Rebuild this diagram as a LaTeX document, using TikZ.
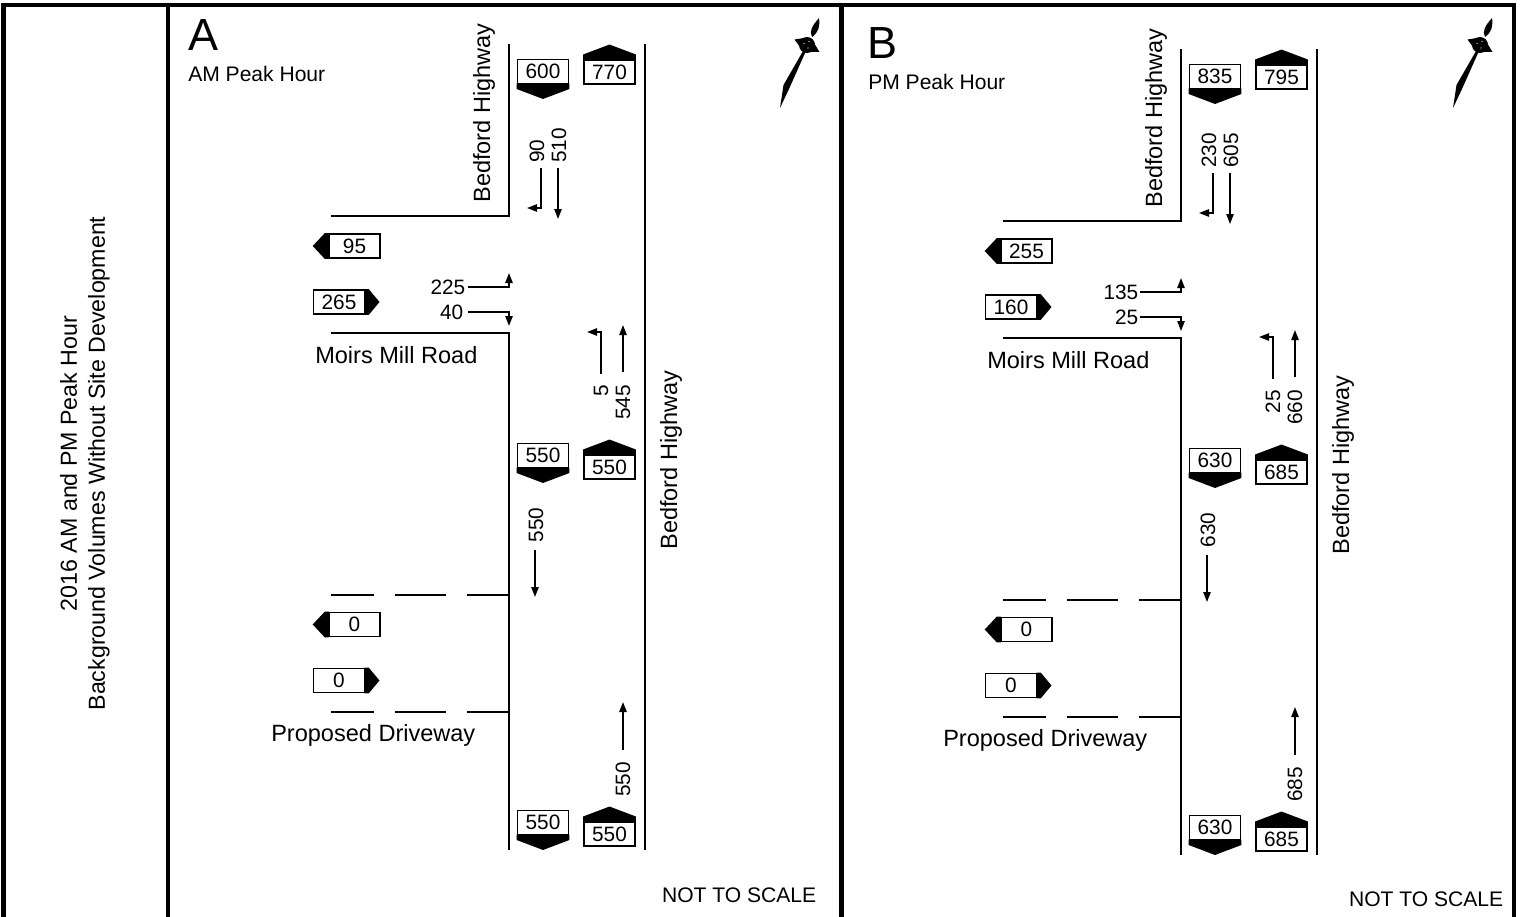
\documentclass[tikz,border=0pt]{standalone}
\usepackage{fontspec}
\setmainfont{Liberation Sans}
\usetikzlibrary{arrows.meta}
\tikzset{
  road/.style={line width=1.6pt,line cap=rect},
  frameline/.style={line width=3.3pt},
  flow/.style={line width=1.15pt,-{Triangle[length=7.5pt,width=5.5pt]}},
  volbox/.style={draw,fill=white,line width=1.2pt,inner sep=0pt,minimum width=38.5pt,minimum height=18pt,font=\fontsize{15.6}{18}\selectfont},
  lab/.style={inner sep=0pt,font=\fontsize{17.65}{21}\selectfont},
  side/.style={inner sep=0pt,font=\fontsize{17.4}{21}\selectfont},
  num/.style={inner sep=0pt,font=\fontsize{15.6}{18}\selectfont},
  vert/.style={rotate=90},
}
\newcommand\boxdn[4]{\node[volbox] (#1) at (#2,#3) {#4};
  \fill ([yshift=.6pt]#1.south west) -- ([yshift=-3.5pt]#1.south west) -- ([yshift=-11pt]#1.south) -- ([yshift=-3.5pt]#1.south east) -- ([yshift=.6pt]#1.south east) -- cycle;}
\newcommand\boxup[4]{\node[volbox] (#1) at (#2,#3) {#4};
  \fill ([yshift=-.6pt]#1.north west) -- ([yshift=3.5pt]#1.north west) -- ([yshift=11pt]#1.north) -- ([yshift=3.5pt]#1.north east) -- ([yshift=-.6pt]#1.north east) -- cycle;}
\newcommand\boxlf[4]{\node[volbox] (#1) at (#2,#3) {#4};
  \fill ([xshift=.6pt]#1.north west) -- ([xshift=-2.5pt]#1.north west) -- ([xshift=-11.5pt]#1.west) -- ([xshift=-2.5pt]#1.south west) -- ([xshift=.6pt]#1.south west) -- cycle;}
\newcommand\boxrt[4]{\node[volbox] (#1) at (#2,#3) {#4};
  \fill ([xshift=-.6pt]#1.north east) -- ([xshift=2.5pt]#1.north east) -- ([xshift=10.5pt]#1.east) -- ([xshift=2.5pt]#1.south east) -- ([xshift=-.6pt]#1.south east) -- cycle;}
\newcommand\northsign[2]{\begin{scope}[shift={(#1,#2)}]
  \fill (0,0) circle[radius=8];
  \fill (-12.5,-5.5) -- (-3,-7) -- (-7,2) -- cycle;
  \fill (12.5,7) -- (3,7) -- (7,-2) -- cycle;
  \fill (5,-8) .. controls (2,-14) and (5,-19) .. (12,-27) .. controls (13,-19) and (12,-13) .. (5,-8) -- cycle;
  \fill (-4,6) -- (-1.5,7) -- (-18,44) -- (-27,63) -- (-23.5,40) -- cycle;
  \fill[white] (-3,-1.5) circle[radius=.7] (2,-3.5) circle[radius=.6] (1,3) circle[radius=.7];
\end{scope}}
\newcommand\trafficpanel{%
  \draw[road] (509,45) -- (509,216) -- (332,216);
  \draw[road] (332,333) -- (509,333) -- (509,849);
  \draw[road] (645,45) -- (645,849);
  \draw[road] (332,595) -- (373,595) (396,595) -- (445,595) (468,595) -- (509,595);
  \draw[road] (332,712) -- (373,712) (396,712) -- (445,712) (468,712) -- (509,712);
  \boxdn{b1}{543}{71.5}{\vA}
  \boxup{b2}{609.5}{72}{\vB}
  \boxlf{b3}{354.5}{246}{\vC}
  \boxrt{b4}{339}{302}{\vD}
  \boxdn{b5}{543}{455.5}{\vE}
  \boxup{b6}{609.5}{467}{\vF}
  \boxlf{b7}{354.5}{624.5}{0}
  \boxrt{b8}{339}{680.5}{0}
  \boxdn{b9}{543}{822.5}{\vE}
  \boxup{b10}{609.5}{834}{\vF}
  % movement labels
  \node[num,vert,anchor=west] (n1) at (537,163) {\vG};
  \node[num,vert,anchor=west] (n2) at (559,163) {\vH};
  \node[num,anchor=east] (n3) at (\xP,287.5) {\vI};
  \node[num,anchor=east] (n4) at (\xQ,312.5) {\vJ};
  \node[num,vert,anchor=east] (n5) at (601,385) {\vK};
  \node[num,vert,anchor=east] (n6) at (623,385) {\vL};
  \node[num,vert] (n7) at (536,525) {\vE};
  \node[num,vert,anchor=west] (n8) at (623,797) {\vF};
  % movement arrows
  \coordinate (a1) at (541,168); \coordinate (a1e) at (527,208);
  \draw[flow] (a1) |- (a1e);
  \coordinate (a2) at (558,168); \coordinate (a2e) at (558,219);
  \draw[flow] (a2) -- (a2e);
  \coordinate (a3) at (468,287); \coordinate (a3e) at (509,273);
  \draw[flow] (a3) -| (a3e);
  \coordinate (a4) at (468,312); \coordinate (a4e) at (509,326);
  \draw[flow] (a4) -| (a4e);
  \coordinate (a5) at (601,374); \coordinate (a5e) at (587,332);
  \draw[flow] (a5) |- (a5e);
  \coordinate (a6) at (623,372); \coordinate (a6e) at (623,325);
  \draw[flow] (a6) -- (a6e);
  \coordinate (a7) at (535,550); \coordinate (a7e) at (535,597);
  \draw[flow] (a7) -- (a7e);
  \coordinate (a8) at (623,750); \coordinate (a8e) at (623,702);
  \draw[flow] (a8) -- (a8e);
  % road names
  \node[lab,vert] (t1) at (484,113) {Bedford Highway};
  \node[lab,vert] (t2) at (671,460) {Bedford Highway};
  \node[lab,anchor=west] (t3) at (315,355) {Moirs Mill Road};
  \node[lab,anchor=west] (t4) at (271,735.5) {Proposed Driveway};
}
\begin{document}
\begin{tikzpicture}[x=0.75pt,y=-0.75pt]
\path[use as bounding box] (0,0) rectangle (1524,917);
\fill[white] (0,0) rectangle (1524,917);
% frame
\draw[frameline] (3.5,917) -- (3.5,5) -- (1514,5) -- (1514,917);
\draw[frameline] (168,5) -- (168,917);
\draw[frameline] (841.5,5) -- (841.5,917);
% side title
\node[side,vert,align=center] (side) at (85,463.5) {2016 AM and PM Peak Hour\\Background Volumes Without Site Development};
% panel A
\node[inner sep=0pt,anchor=base west,font=\fontsize{33.75}{36}\selectfont] (ltrA) at (188,50.5) {A};
\node[inner sep=0pt,anchor=west,font=\fontsize{15.8}{18}\selectfont] (subA) at (188,74) {AM Peak Hour};
\node[inner sep=0pt,anchor=east,font=\fontsize{15.8}{18}\selectfont] (nsA) at (816.5,895) {NOT TO SCALE};
\northsign{807}{45}
\begin{scope}[name prefix=a-]
  \def\vA{600}\def\vB{770}\def\vC{95}\def\vD{265}\def\vE{550}\def\vF{550}
  \def\vG{90}\def\vH{510}\def\vI{225}\def\vJ{40}\def\vK{5}\def\vL{545}
  \def\xP{465.5}\def\xQ{463.5}
  \trafficpanel
\end{scope}
% panel B
\node[inner sep=0pt,anchor=base west,font=\fontsize{33.75}{36}\selectfont] (ltrB) at (867,58.5) {B};
\node[inner sep=0pt,anchor=west,font=\fontsize{15.8}{18}\selectfont] (subB) at (868,82) {PM Peak Hour};
\node[inner sep=0pt,anchor=east,font=\fontsize{15.8}{18}\selectfont] (nsB) at (1503.5,899) {NOT TO SCALE};
\northsign{1480}{45}
\begin{scope}[shift={(672,5)},name prefix=b-]
  \def\vA{835}\def\vB{795}\def\vC{255}\def\vD{160}\def\vE{630}\def\vF{685}
  \def\vG{230}\def\vH{605}\def\vI{135}\def\vJ{25}\def\vK{25}\def\vL{660}
  \def\xP{466.5}\def\xQ{466.5}
  \trafficpanel
\end{scope}
\end{tikzpicture}
\end{document}
